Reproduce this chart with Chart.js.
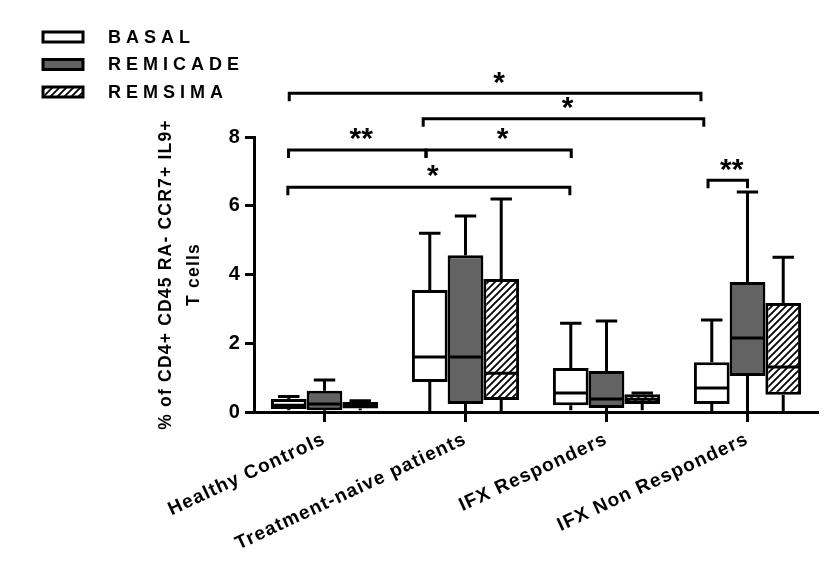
<!DOCTYPE html>
<html>
<head>
<meta charset="utf-8">
<script src="https://cdn.jsdelivr.net/npm/chart.js@4.4.0/dist/chart.umd.min.js"></script>
<style>
  html, body { margin: 0; padding: 0; background: #fff; }
  #wrap { width: 839px; height: 572px; }
</style>
</head>
<body>
<div id="wrap"><canvas id="chart" width="839" height="572"></canvas></div>
<script>
const groups = ['Healthy Controls', 'Treatment-naive patients', 'IFX Responders', 'IFX Non Responders'];
const seriesNames = ['BASAL', 'REMICADE', 'REMSIMA'];
const yTicks = [0, 2, 4, 6, 8];

// box plot stats per group
const basalMin = [0.05, 0, 0.05, 0];
const basalQ1 = [0.09, 0.87, 0.2, 0.23];
const basalMed = [0.2, 1.6, 0.55, 0.7];
const basalQ3 = [0.38, 3.55, 1.28, 1.45];
const basalMax = [0.45, 5.2, 2.58, 2.68];

const remicadeMin = [0, 0, 0, 0];
const remicadeQ1 = [0.05, 0.23, 0.12, 1.05];
const remicadeMed = [0.23, 1.6, 0.38, 2.15];
const remicadeQ3 = [0.62, 4.56, 1.19, 3.78];
const remicadeMax = [0.93, 5.7, 2.65, 6.4];

const remsimaMin = [0.05, 0, 0.05, 0];
const remsimaQ1 = [0.1, 0.35, 0.23, 0.5];
const remsimaMed = [0.2, 1.13, 0.37, 1.31];
const remsimaQ3 = [0.29, 3.87, 0.52, 3.17];
const remsimaMax = [0.33, 6.2, 0.55, 4.5];

// significance brackets: from / to in category units, height in y units
const bracketFrom = [-0.25, 0.7, -0.255, 0.72, -0.26, 2.72];
const bracketTo = [2.67, 2.69, 0.72, 1.75, 1.74, 3.0];
const bracketY = [9.27, 8.53, 7.62, 7.62, 6.54, 6.74];
const bracketLabel = ['*', '*', '**', '*', '*', '**'];

const FONT = "'Liberation Sans', Arial, sans-serif";
const ctx = document.getElementById('chart').getContext('2d');

function makeHatch() {
  const c = document.createElement('canvas');
  c.width = 7; c.height = 7;
  const g = c.getContext('2d');
  g.fillStyle = '#fff';
  g.fillRect(0, 0, 7, 7);
  g.strokeStyle = '#000';
  g.lineWidth = 1.8;
  g.beginPath();
  g.moveTo(0, 7); g.lineTo(7, 0);
  g.moveTo(-1, 1); g.lineTo(1, -1);
  g.moveTo(6, 8); g.lineTo(8, 6);
  g.stroke();
  return ctx.createPattern(c, 'repeat');
}
const hatch = makeHatch();

function boxData(q1, q3) {
  return q1.map((v, i) => [v, q3[i]]);
}

// whiskers, caps and median lines on top of the floating bars
const boxPlugin = {
  id: 'boxWhiskers',
  afterDatasetsDraw(chart) {
    const c = chart.ctx;
    const y = chart.scales.y;
    chart.data.datasets.forEach((ds, i) => {
      const meta = chart.getDatasetMeta(i);
      meta.data.forEach((bar, j) => {
        const x = bar.x, w = bar.width;
        const cap = w * 0.3;
        const yMin = y.getPixelForValue(ds.stats.min[j]);
        const yMax = y.getPixelForValue(ds.stats.max[j]);
        const yQ1 = y.getPixelForValue(ds.stats.q1[j]);
        const yQ3 = y.getPixelForValue(ds.stats.q3[j]);
        const yMed = y.getPixelForValue(ds.stats.med[j]);
        c.save();
        c.strokeStyle = '#000';
        c.lineWidth = 3;
        c.beginPath();
        c.moveTo(x, yQ3); c.lineTo(x, yMax);
        c.moveTo(x - cap, yMax); c.lineTo(x + cap, yMax);
        c.moveTo(x, yQ1); c.lineTo(x, yMin);
        c.moveTo(x - w / 2 + 1.5, yMed); c.lineTo(x + w / 2 - 1.5, yMed);
        c.stroke();
        c.restore();
      });
    });
  }
};

// significance brackets + stars
const bracketPlugin = {
  id: 'brackets',
  afterDraw(chart) {
    const c = chart.ctx;
    const x = chart.scales.x, y = chart.scales.y;
    c.save();
    c.strokeStyle = '#000';
    c.fillStyle = '#000';
    c.lineWidth = 3;
    c.font = 'bold 30px ' + FONT;
    c.letterSpacing = '0px';
    c.textAlign = 'center';
    c.textBaseline = 'middle';
    bracketFrom.forEach((f, i) => {
      const x1 = x.getPixelForValue(f);
      const x2 = x.getPixelForValue(bracketTo[i]);
      const yy = y.getPixelForValue(bracketY[i]);
      c.beginPath();
      c.moveTo(x1, yy + 8); c.lineTo(x1, yy);
      c.lineTo(x2, yy); c.lineTo(x2, yy + 8);
      c.stroke();
      c.fillText(bracketLabel[i], (x1 + x2) / 2 + 4, yy - 10);
    });
    c.restore();
  }
};

// vertical legend in the top-left corner
const legendPlugin = {
  id: 'stackLegend',
  afterDraw(chart) {
    const c = chart.ctx;
    c.save();
    c.font = 'bold 18px ' + FONT;
    c.letterSpacing = '5px';
    c.textBaseline = 'middle';
    chart.data.datasets.forEach((ds, i) => {
      const cy = 37 + i * 27.5;
      c.fillStyle = ds.backgroundColor;
      c.fillRect(43, cy - 5, 40, 10);
      c.strokeStyle = '#000';
      c.lineWidth = 3;
      c.strokeRect(43, cy - 5, 40, 10);
      c.fillStyle = '#000';
      c.fillText(ds.label, 108, cy + 1);
    });
    c.restore();
  }
};

const spacingPlugin = {
  id: 'spacing',
  beforeDraw(chart) {
    chart.ctx.letterSpacing = '1.2px';
  }
};

const datasets = [
  { label: seriesNames[0], data: boxData(basalQ1, basalQ3), backgroundColor: '#ffffff',
    stats: { min: basalMin, q1: basalQ1, med: basalMed, q3: basalQ3, max: basalMax } },
  { label: seriesNames[1], data: boxData(remicadeQ1, remicadeQ3), backgroundColor: '#636363',
    stats: { min: remicadeMin, q1: remicadeQ1, med: remicadeMed, q3: remicadeQ3, max: remicadeMax } },
  { label: seriesNames[2], data: boxData(remsimaQ1, remsimaQ3), backgroundColor: hatch,
    stats: { min: remsimaMin, q1: remsimaQ1, med: remsimaMed, q3: remsimaQ3, max: remsimaMax } }
].map(d => Object.assign(d, {
  borderColor: '#000',
  borderWidth: 3,
  borderSkipped: false,
  barPercentage: 1.0,
  categoryPercentage: 0.76
}));

new Chart(ctx, {
  type: 'bar',
  data: { labels: groups, datasets: datasets },
  options: {
    responsive: false,
    animation: false,
    layout: { padding: { left: 153, top: 137, right: 21, bottom: 0 } },
    plugins: {
      legend: { display: false },
      tooltip: { enabled: false }
    },
    scales: {
      x: {
        afterFit: s => { s.height = 160; },
        border: { display: true, color: '#000', width: 3 },
        grid: { offset: false, drawOnChartArea: false, drawTicks: true, tickLength: 10, tickWidth: 3, tickColor: '#000' },
        ticks: {
          color: '#000',
          font: { family: FONT, size: 19, weight: 'bold' },
          minRotation: 25, maxRotation: 25,
          autoSkip: false,
          padding: 6
        }
      },
      y: {
        min: 0, max: 8,
        afterBuildTicks: s => { s.ticks = yTicks.map(v => ({ value: v })); },
        afterFit: s => { s.width = 101; },
        border: { display: true, color: '#000', width: 3 },
        grid: { drawOnChartArea: false, drawTicks: true, tickLength: 9, tickWidth: 3, tickColor: '#000' },
        ticks: { color: '#000', font: { family: FONT, size: 20, weight: 'bold' }, padding: 4 },
        title: {
          display: true,
          text: ['% of CD4+ CD45 RA- CCR7+ IL9+', 'T cells'],
          color: '#000',
          font: { family: FONT, size: 17.5, weight: 'bold', lineHeight: 1.55 },
          padding: { top: 0, bottom: 0 }
        }
      }
    }
  },
  plugins: [spacingPlugin, boxPlugin, bracketPlugin, legendPlugin]
});
</script>
</body>
</html>
